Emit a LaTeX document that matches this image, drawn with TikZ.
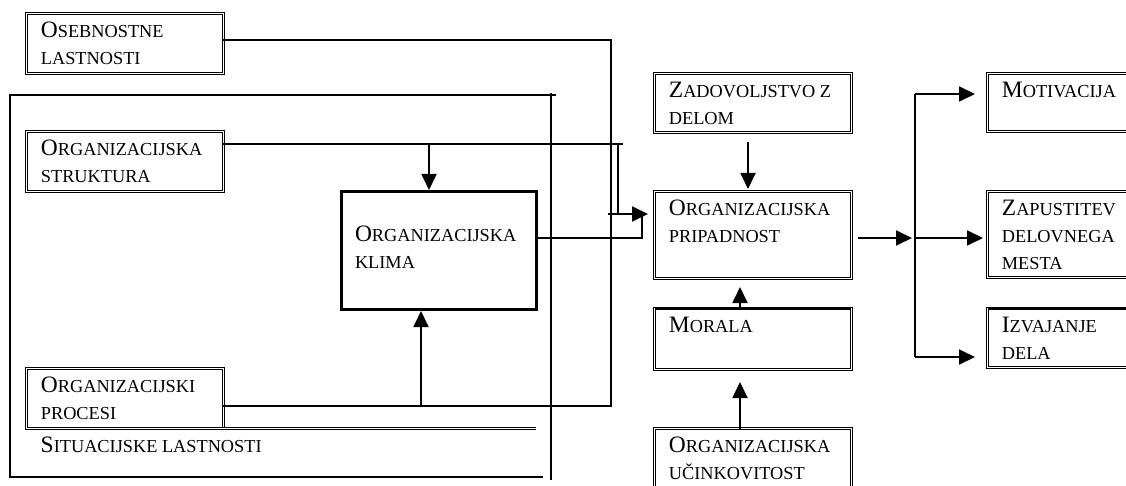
\documentclass[tikz,border=0pt]{standalone}
\usepackage{fontspec}
\setmainfont{Liberation Serif}
\usetikzlibrary{arrows.meta}
\newcommand{\mc}[1]{{\fontsize{18.3pt}{27pt}\selectfont #1}}
\newcommand{\vsebina}[3][23.6pt]{\parbox[c][#2][t]{168pt}{\raggedright\rule{0pt}{#1}#3}}
\tikzset{
  blok/.style={draw, line width=.9pt, double, double distance=1.3pt, outer sep=0pt,
    inner xsep=14.4pt, inner ysep=0pt, anchor=north west, font=\fontsize{23.5pt}{27pt}\selectfont},
  klimablok/.style={draw, line width=3pt, outer sep=0pt, inner xsep=13.5pt, inner ysep=0pt,
    anchor=north west, font=\fontsize{23.5pt}{27pt}\selectfont},
  povezava/.style={line width=1.8pt},
  puscica/.style={povezava, -{Triangle[length=16pt,width=15pt]}},
  okvir/.style={line width=1.3pt},
  dvojna/.style={line width=.9pt, double, double distance=1.3pt},
  debelo/.style={line width=2.8pt}
}
\begin{document}
\begin{tikzpicture}[x=1pt,y=-1pt]
\useasboundingbox (0,0) rectangle (1126,486);
\clip (0,0) rectangle (1126,486);
% levi del
\node[blok] (oseb) at (26.5,13.5) {\vsebina{60pt}{O\mc{SEBNOSTNE}\\\mc{LASTNOSTI}}};
\node[blok] (struk) at (26.5,131.5) {\vsebina{60pt}{O\mc{RGANIZACIJSKA}\\\mc{STRUKTURA}}};
\node[blok] (proc) at (26.5,368.5) {\vsebina{60pt}{O\mc{RGANIZACIJSKI}\\\mc{PROCESI}}};
\node[klimablok] (klima) at (341.5,191.5) {\vsebina[50.5pt]{118pt}{O\mc{RGANIZACIJSKA}\\\mc{KLIMA}}};
\node[anchor=base west, inner sep=0pt, font=\fontsize{23.5pt}{27pt}\selectfont] (sit) at (40.5,452) {S\mc{ITUACIJSKE LASTNOSTI}};
% srednji del
\node[blok] (zad) at (654.5,73.5) {\vsebina{59pt}{Z\mc{ADOVOLJSTVO Z}\\\mc{DELOM}}};
\node[blok] (prip) at (654.5,191.5) {\vsebina{87pt}{O\mc{RGANIZACIJSKA}\\\mc{PRIPADNOST}}};
\node[blok] (moral) at (654.5,308.5) {\vsebina{61pt}{M\mc{ORALA}}};
\node[blok] (ucin) at (654.5,428.5) {\vsebina{80pt}{O\mc{RGANIZACIJSKA}\\\mc{UČINKOVITOST}}};
% desni del
\node[blok] (motiv) at (987.5,73.5) {\vsebina{58pt}{M\mc{OTIVACIJA}}};
\node[blok] (zap) at (987.5,191.5) {\vsebina{86pt}{Z\mc{APUSTITEV}\\\mc{DELOVNEGA}\\\mc{MESTA}}};
\node[blok] (izv) at (987.5,308.5) {\vsebina{59pt}{I\mc{ZVAJANJE}\\\mc{DELA}}};
\draw[debelo] ([yshift=.6pt]moral.north west) -- ([yshift=.6pt]moral.north east);
\draw[debelo] ([yshift=.6pt]izv.north west) -- ([yshift=.6pt]izv.north east);

\coordinate (jO) at (611,40);
\coordinate (jP) at (611,406);
\coordinate (jS) at (618,144);
\coordinate (jSk) at (623,144);
\coordinate (jSd) at (429,144);
\coordinate (jK) at (642,238);
\coordinate (jPk) at (421,406);
\coordinate (vhod) at (608,214);
\coordinate (sZ) at (748,0);
\coordinate (sM) at (740,0);
\coordinate (jG) at (915,94);
\coordinate (jD) at (915,238);
\coordinate (jDo) at (915,357);
\coordinate (oLZ) at (10,95);
\coordinate (oDZ) at (556,95);
\coordinate (oLS) at (10,477);
\coordinate (oDS) at (543,477);
\coordinate (oV1) at (551,93);
\coordinate (oV2) at (551,480);
\coordinate (sitK) at (536,428.5);

% situacijske lastnosti
\draw[okvir] (oDZ) -- (oLZ) -- (oLS) -- (oDS);
\draw[okvir] (oV1) -- (oV2);
\draw[dvojna] (proc.south west) -- (sitK);

\draw[povezava] (oseb.east |- jO) -- (jO) -- (jP) -- (proc.east |- jP);
\draw[povezava] (struk.east |- jS) -- (jSk);
\draw[povezava] (jS) -- (jS |- vhod);
\draw[puscica, shorten >=1.5pt] (jSd) -- (jSd |- klima.north);
\draw[puscica, shorten >=1.5pt] (jPk) -- (jPk |- klima.south);
\draw[povezava] (klima.east |- jK) -- (jK) -- (jK |- vhod);
\draw[puscica, shorten >=6.5pt] (vhod) -- (prip.west |- vhod);

\draw[puscica, shorten <=9.5pt, shorten >=2.5pt] (sZ |- zad.south) -- (sZ |- prip.north);
\draw[puscica, shorten >=8.5pt] (sM |- moral.north) -- (sM |- prip.south);
\draw[puscica, shorten >=12.5pt] (sM |- ucin.north) -- (sM |- moral.south);

\draw[puscica, shorten <=6.5pt, shorten >=3pt] (prip.east |- jD) -- (jD);
\draw[povezava] (jG) -- (jDo);
\draw[puscica, shorten >=12.5pt] (jG) -- (motiv.west |- jG);
\draw[puscica, shorten >=4.5pt] (jD) -- (zap.west |- jD);
\draw[puscica, shorten >=12.5pt] (jDo) -- (izv.west |- jDo);
\end{tikzpicture}
\end{document}
